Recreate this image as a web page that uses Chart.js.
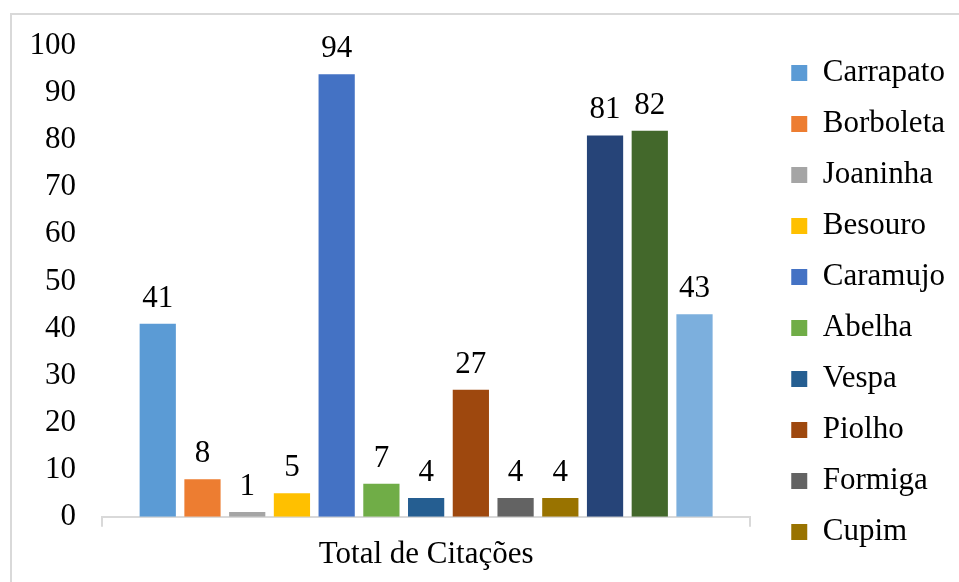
<!DOCTYPE html>
<html>
<head>
<meta charset="utf-8">
<script src="https://cdn.jsdelivr.net/npm/chart.js@4/dist/chart.umd.min.js"></script>
<style>
html,body{margin:0;padding:0;background:#fff;}
#wrap{position:relative;width:959px;height:582px;overflow:hidden;}
#frame{position:absolute;left:10px;top:13px;width:1000px;height:600px;border-left:2px solid #d9d9d9;border-top:2px solid #d9d9d9;box-sizing:border-box;}
canvas{position:absolute;left:0;top:0;}
</style>
</head>
<body>
<div id="wrap"><div id="frame"></div><canvas id="c" width="959" height="582"></canvas></div>
<script>
const categories = ['Total de Citações'];
const seriesNames = ['Carrapato','Borboleta','Joaninha','Besouro','Caramujo','Abelha','Vespa','Piolho','Formiga','Cupim','Série 11','Série 12','Série 13'];
const seriesValues = [41, 8, 1, 5, 94, 7, 4, 27, 4, 4, 81, 82, 43];
const seriesColors = ['#5B9BD5','#ED7D31','#A5A5A5','#FFC000','#4472C4','#70AD47','#255E91','#9E480E','#636363','#997300','#264478','#43682B','#7CAFDD'];
const yTicks = [0,10,20,30,40,50,60,70,80,90,100];
const legendCount = 10;

const FONT = '"Liberation Serif", "Times New Roman", serif';
const FS = 31;

const datasets = seriesNames.map((n,i)=>({
  label: n,
  data: [seriesValues[i]],
  backgroundColor: seriesColors[i],
  borderWidth: 0,
  barPercentage: 0.81,
  categoryPercentage: 0.897
}));

const valueLabels = {
  id: 'valueLabels',
  afterDatasetsDraw(chart){
    const ctx = chart.ctx;
    ctx.save();
    ctx.font = FS + 'px ' + FONT;
    ctx.fillStyle = '#000';
    ctx.textAlign = 'center';
    ctx.textBaseline = 'alphabetic';
    chart.data.datasets.forEach((ds,i)=>{
      const meta = chart.getDatasetMeta(i);
      meta.data.forEach((el,j)=>{
        ctx.fillText(String(ds.data[j]), el.x, el.y - 17);
      });
    });
    ctx.restore();
  }
};

// gap between plot area and legend
const legendGap = {
  id: 'legendGap',
  afterLayout(chart){
    if (chart.legend) { chart.legend.left += 21; chart.legend.right += 21; }
  }
};

new Chart(document.getElementById('c'), {
  type: 'bar',
  data: { labels: categories, datasets },
  options: {
    responsive: false,
    animation: false,
    layout: { autoPadding: false, padding: { left: 3.5, top: 23, right: 25, bottom: 0 } },
    plugins: {
      tooltip: { enabled: false },
      title: { display: true, text: '', font: { size: 10, lineHeight: 1 }, padding: { top: 13, bottom: 0 } },
      legend: {
        position: 'right',
        labels: {
          font: { family: FONT, size: FS },
          color: '#000',
          boxWidth: 16,
          boxHeight: 16,
          padding: 20,
          filter: (item) => item.datasetIndex < legendCount
        }
      }
    },
    scales: {
      x: {
        grid: { display: true, offset: true, drawOnChartArea: false, drawTicks: true, tickLength: 10, color: '#d9d9d9', lineWidth: 2 },
        border: { display: true, color: '#d9d9d9', width: 2 },
        ticks: { font: { family: FONT, size: FS }, color: '#000', padding: 9 }
      },
      y: {
        min: 0, max: 100,
        afterBuildTicks: (s) => { s.ticks = yTicks.map(v=>({value:v})); },
        grid: { display: false, drawTicks: false },
        border: { display: false },
        ticks: { font: { family: FONT, size: FS }, color: '#000', padding: 26 }
      }
    }
  },
  plugins: [valueLabels, legendGap]
});
</script>
</body>
</html>
